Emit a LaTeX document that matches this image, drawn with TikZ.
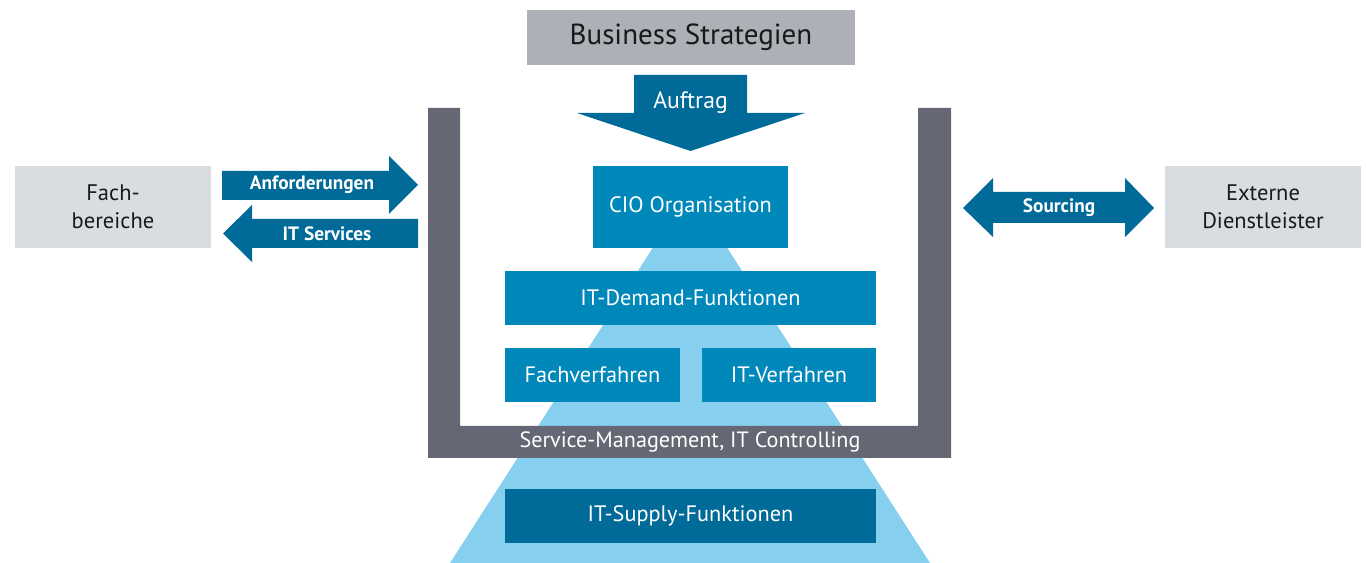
\documentclass[tikz,border=0pt]{standalone}
\usepackage{fontspec}
\setmainfont{PT Sans}

\definecolor{stratgrey}{HTML}{ADB0B7}
\definecolor{sidegrey}{HTML}{D9DDE1}
\definecolor{framegrey}{HTML}{656874}
\definecolor{demandblue}{HTML}{0088BB}
\definecolor{supplyblue}{HTML}{006A98}
\definecolor{pyramidblue}{HTML}{86CFEE}

\tikzset{%
        box/.style={
                rectangle,
                inner sep=0pt,
                align=center
            },
        bluebox/.style={
                box,
                fill=demandblue,
                text=white,
                font=\fontsize{12.7}{15}\selectfont
            },
        greybox/.style={
                box,
                fill=sidegrey,
                text=black!90,
                minimum width=3.92cm,
                minimum height=1.64cm,
                font=\fontsize{12.8}{16}\selectfont
            },
        arrowlabel/.style={
                inner sep=0pt,
                text=white,
                font=\bfseries\fontsize{11}{13}\selectfont
            }
    }

\begin{document}
\begin{tikzpicture}[x=0.02cm, y=-0.02cm]
    \useasboundingbox (0,0) rectangle (1366,563);

    % pyramid behind everything:
        \fill[pyramidblue] (690,190) -- (930,563) -- (450,563) -- cycle;

    % frame round the demand side:
        \fill[framegrey] (428,108) -- (460,108) -- (460,426) -- (918,426) -- (918,108)
            -- (951,108) -- (951,458) -- (428,458) -- cycle;
        \node [inner sep=0pt, text=white, font=\fontsize{12.6}{15}\selectfont] (svc) at (690,442) {Service-Management, IT Controlling};

    % top:
        \node [box, fill=stratgrey, text=black!90, minimum width=6.56cm, minimum height=1.1cm,
               font=\fontsize{16.5}{19}\selectfont] (strat) at (691,37.5) {Business Strategien};
        \fill[supplyblue] (634,75) -- (747,75) -- (747,113) -- (805,113) -- (690.5,151)
            -- (577,113) -- (634,113) -- cycle;
        \node [inner sep=0pt, text=white, font=\fontsize{13.5}{15}\selectfont] (auftrag) at (690.5,103) {Auftrag};

    % blue boxes:
        \node [bluebox, minimum width=3.9cm, minimum height=1.64cm] (cio) at (690.5,207) {CIO Organisation};
        \node [bluebox, minimum width=7.42cm, minimum height=1.08cm] (demand) at (690.5,298) {IT-Demand-Funktionen};
        \node [bluebox, minimum width=3.5cm, minimum height=1.08cm] (fach) at (592.5,375) {Fachverfahren};
        \node [bluebox, minimum width=3.48cm, minimum height=1.08cm] (itv) at (789,375) {IT-Verfahren};
        \node [bluebox, fill=supplyblue, minimum width=7.42cm, minimum height=1.08cm] (supply) at (690.5,516) {IT-Supply-Funktionen};

    % left side:
        \node [greybox] (fb) at (113,207) {Fach-\\bereiche};
        \fill[supplyblue] (222,171) -- (389,171) -- (389,156) -- (418,185) -- (389,214)
            -- (389,200) -- (222,200) -- cycle;
        \node [arrowlabel] (anf) at (312,185) {Anforderungen};
        \fill[supplyblue] (418,219) -- (252,219) -- (252,205) -- (223,233.5) -- (252,262)
            -- (252,248) -- (418,248) -- cycle;
        \node [arrowlabel] (itsvc) at (327,233.5) {IT Services};

    % right side:
        \node [greybox] (ext) at (1263,207) {Externe\\Dienstleister};
        \fill[supplyblue] (963,208) -- (993,178) -- (993,192) -- (1125,192) -- (1125,178)
            -- (1154,208) -- (1125,237) -- (1125,223) -- (993,223) -- (993,237) -- cycle;
        \node [arrowlabel] (src) at (1059,208) {Sourcing};
\end{tikzpicture}
\end{document}
